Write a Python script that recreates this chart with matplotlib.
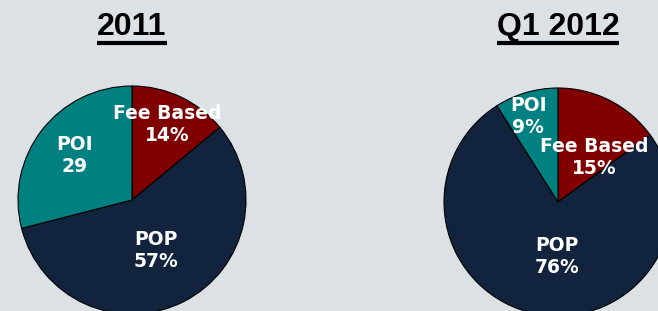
import matplotlib.pyplot as plt
import numpy as np
from matplotlib.lines import Line2D

# data
names = ['Fee Based', 'POP', 'POI']
vals_2011 = [14, 57, 29]
vals_2012 = [15, 76, 9]
labels_2011 = ['Fee Based\n14%', 'POP\n57%', 'POI\n29']
labels_2012 = ['Fee Based\n15%', 'POP\n76%', 'POI\n9%']
titles = ['2011', 'Q1 2012']

colors = ['#800000', '#12243d', '#008080']
bg = '#dce1e5'

W, H = 658, 311
fig = plt.figure(figsize=(W / 100, H / 100), dpi=100, facecolor=bg)

def add_pie(cx, cy, r, vals, labels, lab_pos, title):
    # cx, cy, r in pixels (y from top)
    ax = fig.add_axes([(cx - r) / W, (H - cy - r) / H, 2 * r / W, 2 * r / H])
    ax.set_facecolor(bg)
    wedges, _ = ax.pie(vals, colors=colors, startangle=90, counterclock=False,
                       wedgeprops=dict(edgecolor='black', linewidth=0.8))
    for w, lab, (rr, dang) in zip(wedges, labels, lab_pos):
        th = np.deg2rad((w.theta1 + w.theta2) / 2 + dang)
        ax.text(rr * np.cos(th), rr * np.sin(th), lab, ha='center', va='center',
                color='white', fontsize=13.5, fontweight='bold',
                family='DejaVu Sans', linespacing=1.2)
    ax.set_xlim(-1, 1)
    ax.set_ylim(-1, 1)
    ax.axis('off')
    t = fig.text(cx / W, 1 - 27 / H, title, ha='center', va='center',
                 fontsize=23, fontweight='bold', family='Liberation Sans')
    return t

t1 = add_pie(132, 200, 114, vals_2011, labels_2011,
             [(0.73, 0), (0.49, -2), (0.64, 0)], titles[0])
t2 = add_pie(558, 202, 114, vals_2012, labels_2012,
             [(0.50, -12), (0.48, 10), (0.79, 3)], titles[1])

# underline titles
fig.canvas.draw()
for t in (t1, t2):
    bb = t.get_window_extent()
    y = 1 - 43 / H
    fig.add_artist(Line2D([bb.x0 / W, bb.x1 / W], [y, y], color='black',
                          linewidth=3, solid_capstyle='butt'))

fig.savefig('out.png', dpi=100, facecolor=bg)
